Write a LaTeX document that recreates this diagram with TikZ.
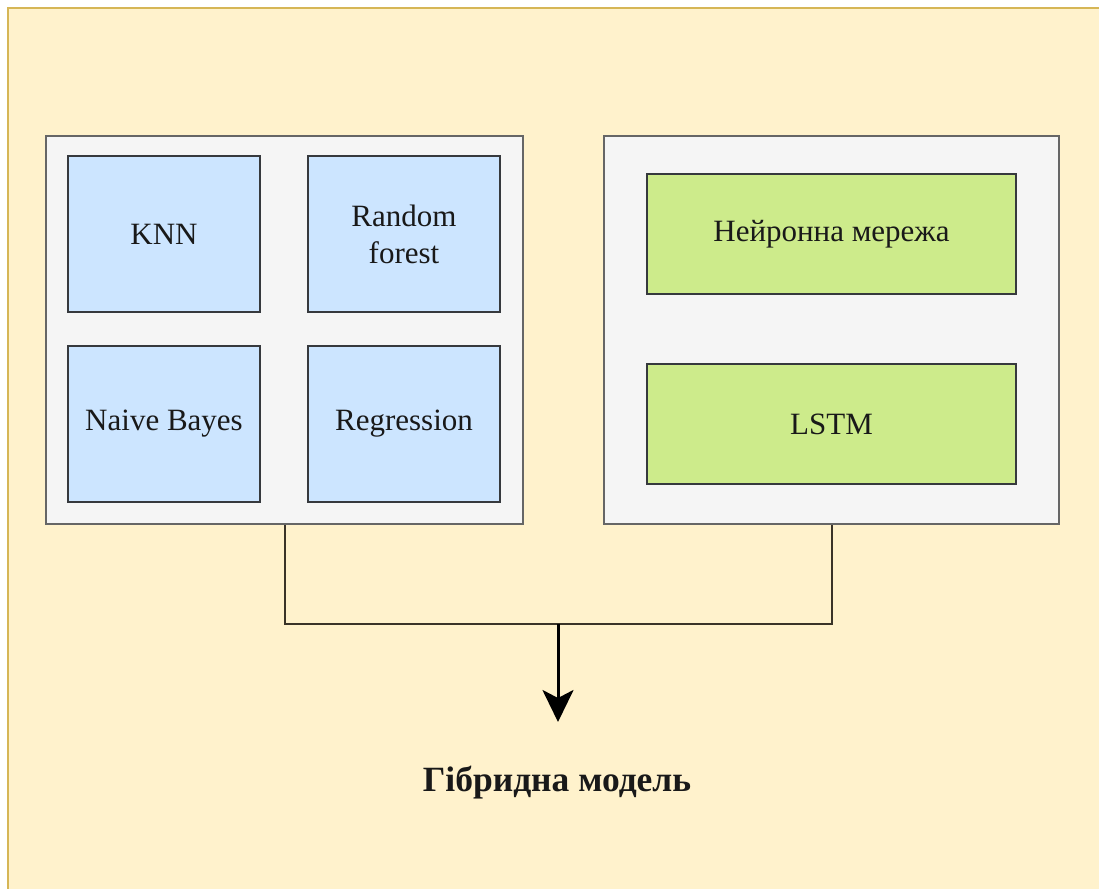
\documentclass[tikz,border=0pt]{standalone}
\usepackage{fontspec}
\setmainfont{Liberation Serif}
\usetikzlibrary{arrows.meta}
\definecolor{bgfill}{HTML}{FFF2CC}
\definecolor{bgline}{HTML}{D6B656}
\definecolor{panelfill}{HTML}{F5F5F5}
\definecolor{panelline}{HTML}{666666}
\definecolor{bluefill}{HTML}{CCE5FF}
\definecolor{greenfill}{HTML}{CDEB8B}
\definecolor{boxline}{HTML}{36393D}
\definecolor{conline}{HTML}{3A3428}
\tikzset{
  panel/.style={draw=panelline, fill=panelfill, line width=2pt, inner sep=0pt},
  bluebox/.style={draw=boxline, fill=bluefill, line width=2pt, minimum width=192pt, minimum height=156pt, inner sep=0pt, align=center, font=\fontsize{31}{37}\selectfont, text=black!90},
  greenbox/.style={draw=boxline, fill=greenfill, line width=2pt, minimum width=369pt, minimum height=120pt, inner sep=0pt, align=center, font=\fontsize{31}{37}\selectfont, text=black!90},
  conn/.style={draw=conline, line width=2pt},
  mainarrow/.style={draw=black, line width=3pt, -{Stealth[length=32pt, width=31pt, inset=8pt]}},
  title/.style={font=\fontsize{35.5}{40}\selectfont\bfseries, text=black!90}
}
\begin{document}
\begin{tikzpicture}[x=1pt, y=-1pt]
\useasboundingbox (0,0) rectangle (1099,888);
\fill[white] (0,0) rectangle (1099,888);
\begin{scope}
\clip (0,0) rectangle (1099,888);
\draw[fill=bgfill, draw=bgline, line width=2.5pt] (8,8) rectangle (1120,910);
\end{scope}
% panels
\node[panel, minimum width=477pt, minimum height=388pt] (lp) at (284.5,330) {};
\node[panel, minimum width=455pt, minimum height=388pt] (rp) at (831.5,330) {};
% inner boxes
\node[bluebox] (knn) at (164,234) {KNN};
\node[bluebox] (rf) at (404,234) {Random\\forest};
\node[bluebox] (nb) at (164,424) {Naive Bayes};
\node[bluebox] (reg) at (404,424) {Regression};
\node[greenbox] (nn) at (831.5,234) {Нейронна мережа};
\node[greenbox] (lstm) at (831.5,424) {LSTM};
% connectors
\coordinate (j) at (558,624);
\coordinate (tip) at (558,722);
\draw[conn] (lp.south) |- (j);
\draw[conn] (rp.south) |- (j);
\draw[mainarrow] (j) -- (tip);
\node[title] (label) at (557,783) {Гібридна модель};
\end{tikzpicture}
\end{document}
